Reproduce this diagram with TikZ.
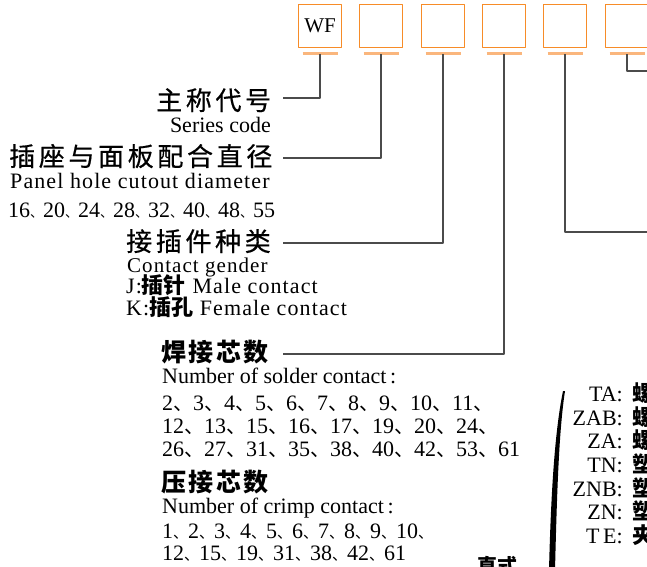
\documentclass[tikz,border=0pt]{standalone}
\usepackage{fontspec}
\setmainfont{Liberation Serif}
\newfontfamily\cjk{Noto Sans CJK SC}
\newfontfamily\cjkls[LetterSpace=14,FakeBold=0.6]{Noto Sans CJK SC}
\newfontfamily\cjklsb[LetterSpace=10]{Noto Sans CJK SC}
\newfontfamily\serls[LetterSpace=5]{Liberation Serif}
\usepackage{tikz}
\usetikzlibrary{calc}
\definecolor{boxorange}{RGB}{247,140,40}
\definecolor{barorange}{RGB}{250,182,125}
\definecolor{leadgray}{RGB}{75,75,75}
\newcommand\dunhao[1]{\makebox[#1][l]{\smash{\cjk\fontsize{#1}{#1}\selectfont 、}}}

\begin{document}
\begin{tikzpicture}[x=1pt,y=-1pt,line join=round,
  codebox/.style={draw=boxorange,line width=1.4pt,minimum width=43pt,minimum height=43pt,inner sep=0pt,font=\fontsize{21}{21}\selectfont},
  bar/.style={barorange,line width=2.6pt},
  lead/.style={leadgray,line width=1.2pt},
  hd/.style={font=\cjkls\fontsize{26}{26}\selectfont,inner sep=0pt,anchor=base west},
  hdb/.style={font=\cjklsb\bfseries\fontsize{25}{25}\selectfont,inner sep=0pt,anchor=base west},
  en/.style={font=\fontsize{22}{22}\selectfont,inner sep=0pt,anchor=base west},
  enls/.style={font=\serls\fontsize{22}{22}\selectfont,inner sep=0pt,anchor=base west},
  num/.style={font=\fontsize{22}{22}\selectfont,inner sep=0pt,anchor=base west},
  lbl/.style={font=\fontsize{22}{22}\selectfont,inner sep=0pt,anchor=base east},
  zh/.style={font=\cjk\bfseries\fontsize{22}{22}\selectfont,inner sep=0pt,anchor=base west}]
  \useasboundingbox (0,0) rectangle (647,566);
  \clip (0,0) rectangle (647,566);
  \node[codebox] (b1) at (320,26) {WF};
  \node[codebox] (b2) at (381,26) {};
  \node[codebox] (b3) at (443,26) {};
  \node[codebox] (b4) at (504,26) {};
  \node[codebox] (b5) at (565,26) {};
  \node[codebox] (b6) at (627,26) {};
  \foreach \b in {b1,b2,b3,b4,b5,b6}
    \draw[bar] ([xshift=-17.5pt,yshift=-5pt]\b.south) -- ([xshift=17.5pt,yshift=-5pt]\b.south);
  \coordinate (L1) at (283,98);
  \coordinate (L2) at (283,158);
  \coordinate (L3) at (283,243);
  \coordinate (L4) at (283,354);
  \coordinate (R5) at (650,232);
  \coordinate (R6) at (650,71);
  \draw[lead] ([yshift=-6pt]b1.south) |- (L1);
  \draw[lead] ([yshift=-6pt]b2.south) |- (L2);
  \draw[lead] ([yshift=-6pt]b3.south) |- (L3);
  \draw[lead] ([yshift=-6pt]b4.south) |- (L4);
  \draw[lead] ([yshift=-6pt]b5.south) |- (R5);
  \draw[lead] ([yshift=-6pt]b6.south) |- (R6);
  \node[hd] (hd1) at (156,110) {主称代号};
  \node[en,anchor=base east] (en1) at (271,132) {Series code};
  \node[hd] (hd2) at (9,166) {插座与面板配合直径};
  \node[enls] (en2) at (10,188) {Panel hole cutout diameter};
  \node[num] (n2) at (8,217) {16\dunhao{13pt}20\dunhao{13pt}24\dunhao{13pt}28\dunhao{13pt}32\dunhao{13pt}40\dunhao{13pt}48\dunhao{13pt}55};
  \node[hd] (hd3) at (126,251) {接插件种类};
  \node[enls,font=\serls\fontsize{21}{21}\selectfont] (en3) at (127,272) {Contact gender};
  \node[enls] (gj) at (126,293) {J:\smash{\cjk\bfseries 插针} Male contact};
  \node[enls] (gk) at (126,315) {K:\smash{\cjk\bfseries 插孔} Female contact};
  \node[hdb] (hd4) at (161,361) {焊接芯数};
  \node[en] (en4) at (162,383) {Number of solder contact\,:};
  \node[num] (s1) at (162,410) {2\dunhao{20pt}3\dunhao{20pt}4\dunhao{20pt}5\dunhao{20pt}6\dunhao{20pt}7\dunhao{20pt}8\dunhao{20pt}9\dunhao{20pt}10\dunhao{20pt}11\dunhao{20pt}};
  \node[num] (s2) at (162,433) {12\dunhao{20pt}13\dunhao{20pt}15\dunhao{20pt}16\dunhao{20pt}17\dunhao{20pt}19\dunhao{20pt}20\dunhao{20pt}24\dunhao{20pt}};
  \node[num] (s3) at (162,456) {26\dunhao{20pt}27\dunhao{20pt}31\dunhao{20pt}35\dunhao{20pt}38\dunhao{20pt}40\dunhao{20pt}42\dunhao{20pt}53\dunhao{20pt}61};
  \node[hdb] (hd5) at (161,491) {压接芯数};
  \node[en] (en5) at (162,513) {Number of crimp contact\,:};
  \node[num] (c1) at (162,538) {1\dunhao{15pt}2\dunhao{15pt}3\dunhao{15pt}4\dunhao{15pt}5\dunhao{15pt}6\dunhao{15pt}7\dunhao{15pt}8\dunhao{15pt}9\dunhao{15pt}10\dunhao{15pt}};
  \node[num] (c2) at (162,560) {12\dunhao{15pt}15\dunhao{15pt}19\dunhao{15pt}31\dunhao{15pt}38\dunhao{15pt}42\dunhao{15pt}61};
  \node[zh,font=\cjk\bfseries\fontsize{20}{20}\selectfont] (zs) at (477,573) {直式};
  \fill (563,391) .. controls (555,430) and (551,490) .. (549,570) -- (555,570) .. controls (557,490) and (559,430) .. (565,391) -- cycle;
  \node[lbl] (t1) at (623,401) {TA:};
  \node[lbl] (t2) at (623,425) {ZAB:};
  \node[lbl] (t3) at (623,448) {ZA:};
  \node[lbl] (t4) at (623,472) {TN:};
  \node[lbl] (t5) at (623,496) {ZNB:};
  \node[lbl] (t6) at (623,519) {ZN:};
  \node[lbl] (t7) at (623,543) {T\,E:};
  \node[zh] (z1) at (632,401) {螺};
  \node[zh] (z2) at (632,425) {螺};
  \node[zh] (z3) at (632,448) {螺};
  \node[zh] (z4) at (632,472) {塑};
  \node[zh] (z5) at (632,496) {塑};
  \node[zh] (z6) at (632,519) {塑};
  \node[zh] (z7) at (632,543) {夹};
\end{tikzpicture}
\end{document}
